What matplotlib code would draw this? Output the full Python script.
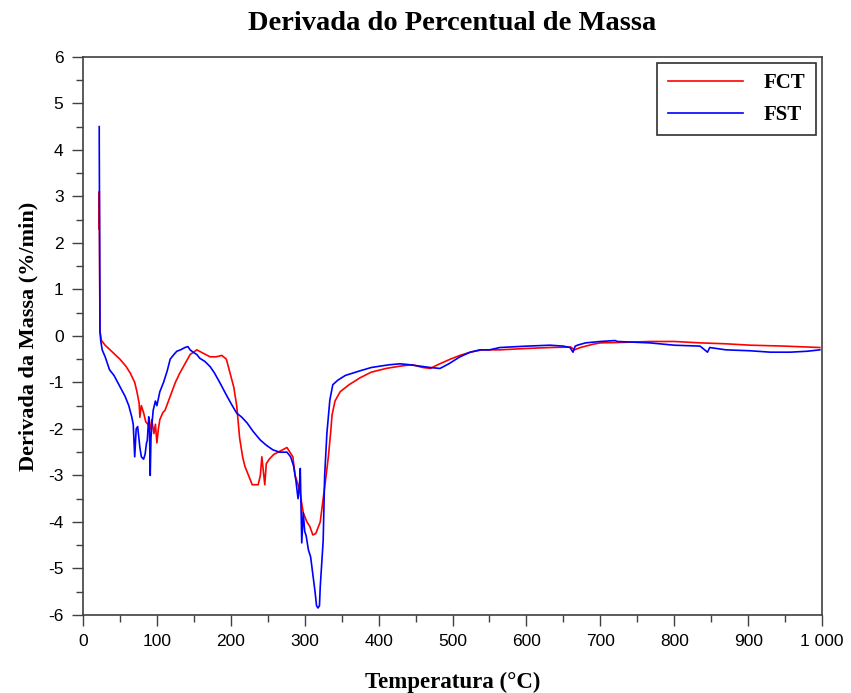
import matplotlib.pyplot as plt
from matplotlib.ticker import FuncFormatter, MultipleLocator

plt.rcParams["axes.unicode_minus"] = False

# Temperature (C) and mass derivative (%/min)
temp_fct = [22, 22, 23, 25, 30, 40, 50, 58, 64, 70, 73, 76, 77, 79, 82, 85, 88,
            91, 93, 96, 98, 100, 102, 104, 108, 111, 118, 125, 131, 138, 145,
            154, 160, 166, 172, 180, 188, 194, 199, 204, 208, 212, 216, 219,
            224, 229, 233, 237, 240, 242, 244, 246, 248, 252, 258, 264, 270,
            276, 280, 284, 287, 291, 294, 298, 303, 307, 311, 315, 321, 325,
            329, 332, 335, 337, 341, 348, 360, 375, 390, 410, 429, 445, 460,
            470, 480, 497, 510, 524, 540, 564, 600, 632, 660, 665, 673, 690,
            700, 730, 767, 800, 835, 870, 903, 950, 997]
deriv_fct = [2.3, 3.1, 0.1, -0.1, -0.2, -0.35, -0.5, -0.65, -0.8, -1.0, -1.2,
             -1.45, -1.75, -1.5, -1.65, -1.85, -1.9, -2.0, -1.8, -2.1, -1.9,
             -2.3, -2.0, -1.8, -1.65, -1.6, -1.3, -1.0, -0.8, -0.6, -0.4,
             -0.3, -0.35, -0.4, -0.45, -0.45, -0.42, -0.5, -0.8, -1.1, -1.5,
             -2.2, -2.6, -2.8, -3.0, -3.2, -3.2, -3.2, -3.0, -2.6, -2.9, -3.2,
             -2.75, -2.65, -2.55, -2.5, -2.45, -2.4, -2.5, -2.6, -3.0, -3.2,
             -3.4, -3.8, -4.0, -4.1, -4.28, -4.25, -4.0, -3.5, -3.0, -2.6,
             -2.1, -1.7, -1.4, -1.2, -1.05, -0.9, -0.78, -0.7, -0.65, -0.62,
             -0.68, -0.7, -0.62, -0.5, -0.42, -0.35, -0.3, -0.3, -0.27, -0.25,
             -0.24, -0.3, -0.25, -0.18, -0.15, -0.14, -0.12, -0.12, -0.15,
             -0.17, -0.2, -0.22, -0.25]

temp_fst = [22, 22, 23, 24, 26, 30, 36, 42, 47, 52, 57, 62, 66, 68, 70, 72, 74,
            77, 79, 82, 84, 86, 87, 89, 90, 91, 92, 93, 95, 98, 100, 104, 109,
            114, 118, 123, 127, 132, 138, 142, 145, 149, 154, 158, 165, 172,
            178, 185, 190, 195, 202, 208, 215, 222, 230, 240, 248, 257, 266,
            276, 281, 285, 288, 291, 293, 294, 296, 298, 300, 302, 305, 308,
            310, 312, 314, 316, 318, 320, 321, 323, 325, 327, 330, 334, 338,
            345, 355, 365, 375, 390, 402, 415, 429, 442, 456, 470, 483, 495,
            510, 524, 537, 550, 564, 600, 632, 650, 659, 663, 666, 669, 680,
            700, 720, 723, 767, 800, 835, 845, 848, 870, 903, 930, 957, 980,
            997]
deriv_fst = [4.5, 4.3, 0.1, -0.1, -0.3, -0.45, -0.73, -0.85, -1.0, -1.15, -1.3,
             -1.5, -1.74, -1.9, -2.6, -2.0, -1.95, -2.4, -2.6, -2.65, -2.55,
             -2.3, -2.25, -1.74, -2.0, -3.0, -2.2, -1.95, -1.6, -1.4, -1.5,
             -1.2, -1.0, -0.75, -0.5, -0.4, -0.33, -0.3, -0.25, -0.23, -0.3,
             -0.35, -0.4, -0.48, -0.55, -0.66, -0.8, -1.0, -1.15, -1.3, -1.5,
             -1.66, -1.75, -1.87, -2.05, -2.24, -2.35, -2.45, -2.5, -2.5, -2.6,
             -2.8, -3.1, -3.5, -3.2, -2.85, -4.45, -3.8, -4.2, -4.3, -4.6,
             -4.75, -5.0, -5.25, -5.5, -5.8, -5.85, -5.8, -5.4, -4.9, -4.4,
             -3.0, -2.1, -1.38, -1.05, -0.95, -0.85, -0.8, -0.75, -0.68, -0.65,
             -0.62, -0.6, -0.62, -0.65, -0.68, -0.7, -0.6, -0.45, -0.35, -0.3,
             -0.3, -0.25, -0.22, -0.2, -0.22, -0.25, -0.35, -0.22,
             -0.2, -0.15, -0.12, -0.1, -0.12, -0.15, -0.2, -0.22, -0.35, -0.25,
             -0.3, -0.32, -0.35, -0.35, -0.33, -0.3]

fig = plt.figure(figsize=(8.51, 6.93), dpi=100)
ax = fig.add_axes([0.0975, 0.1126, 0.8685, 0.8054])

ax.plot(temp_fct, deriv_fct, color="#ff0000", lw=1.2, label="FCT")
ax.plot(temp_fst, deriv_fst, color="#0000ff", lw=1.2, label="FST")

ax.set_xlim(0, 1000)
ax.set_ylim(-6, 6)
ax.xaxis.set_major_locator(MultipleLocator(100))
ax.xaxis.set_minor_locator(MultipleLocator(50))
ax.yaxis.set_major_locator(MultipleLocator(1))
ax.yaxis.set_minor_locator(MultipleLocator(0.5))
ax.xaxis.set_major_formatter(FuncFormatter(lambda v, p: f"{int(v):,}".replace(",", " ")))

tick_font = ["Liberation Sans Narrow", "Liberation Sans", "DejaVu Sans"]
ax.tick_params(which="major", direction="out", length=8, width=1, color="#404040",
               labelsize=12.5, pad=6)
ax.tick_params(which="minor", direction="out", length=5, width=1, color="#404040")
for lbl in ax.get_xticklabels() + ax.get_yticklabels():
    lbl.set_family(tick_font)
for sp in ax.spines.values():
    sp.set_color("#404040")
    sp.set_linewidth(1.2)

serif = ["Liberation Serif", "DejaVu Serif"]
ax.set_title("Derivada do Percentual de Massa", family=serif, fontweight="bold",
             fontsize=20.5, pad=19)
ax.set_xlabel("Temperatura (°C)", family=serif, fontweight="bold", fontsize=16.5,
              labelpad=16)
ax.set_ylabel("Derivada da Massa (%/min)", family=serif, fontweight="bold", fontsize=16,
              labelpad=7)

leg = ax.legend(loc="upper right", prop={"family": serif, "weight": "bold", "size": 15},
                fancybox=False, edgecolor="#303030", framealpha=1, handlelength=3.6,
                handletextpad=1.0, borderpad=0.5, labelspacing=0.55,
                borderaxespad=0.3)
leg.get_frame().set_linewidth(1.2)

fig.savefig("out.png", dpi=100)
